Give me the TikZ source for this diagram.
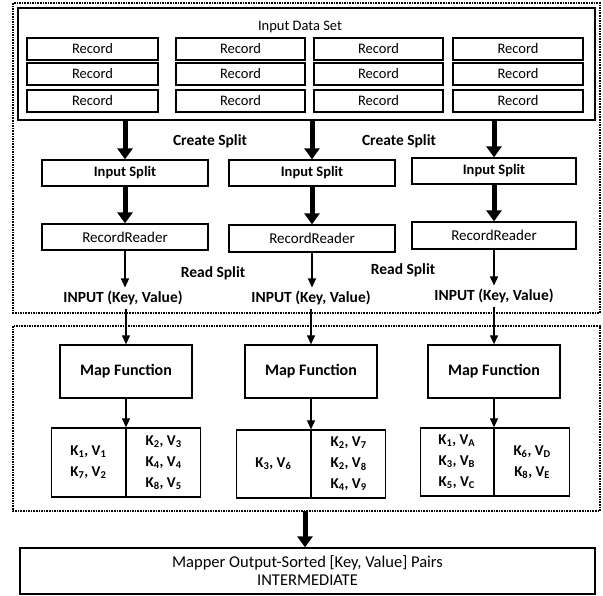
\documentclass[tikz,border=0pt]{standalone}
\usepackage{fontspec}
\setmainfont{Carlito}
\usetikzlibrary{arrows.meta}

\begin{document}
\begin{tikzpicture}[x=1pt,y=-1pt,
        txt/.style={font=\fontsize{14.5}{17}\selectfont},
        btxt/.style={font=\fontsize{15.5}{18}\selectfont\bfseries},
        box/.style={draw,line width=1.3pt,inner sep=0pt,align=center},
        kvbox/.style={box,font=\fontsize{15}{21}\selectfont\bfseries},
        frame/.style={densely dotted,line width=1.6pt},
        thickarr/.style={line width=5pt,-{Triangle[width=15pt,length=11pt]}},
        thinarr/.style={line width=1.2pt,-{Triangle[width=8pt,length=9pt]}}]
    \useasboundingbox (0,0) rectangle (603,596);

    % dotted frames
    \draw[frame] (13,3) rectangle (600,313);
    \draw[frame] (13,326) rectangle (600,511);

    % input data set with its records
    \node[box,line width=1.8pt,minimum width=577pt,minimum height=112pt] (data) at (306.5,64) {};
    \node[txt] (title) at (300,27) {Input Data Set};
    \foreach \cx/\w [count=\i] in {92.5/131, 240.5/129, 378.5/129, 518/130}
        \foreach \cy [count=\j] in {49,74,101}
            \node[box,txt,minimum width=\w pt,minimum height=22pt] (rec-\i-\j) at (\cx,\cy) {Record};

    % splits and readers
    \node[box,btxt,font=\fontsize{14.5}{17}\selectfont\bfseries,minimum width=166pt,minimum height=26pt] (split1) at (125,173) {Input Split};
    \node[box,btxt,font=\fontsize{14.5}{17}\selectfont\bfseries,minimum width=166pt,minimum height=26pt] (split2) at (312,173) {Input Split};
    \node[box,btxt,font=\fontsize{14.5}{17}\selectfont\bfseries,minimum width=164pt,minimum height=26pt] (split3) at (494,171) {Input Split};
    \node[box,font=\fontsize{15}{17}\selectfont,minimum width=166pt,minimum height=26pt] (rr1) at (125,237) {RecordReader};
    \node[box,font=\fontsize{15}{17}\selectfont,minimum width=166pt,minimum height=27pt] (rr2) at (312,238.5) {RecordReader};
    \node[box,font=\fontsize{15}{17}\selectfont,minimum width=164pt,minimum height=27pt] (rr3) at (494,235.5) {RecordReader};

    \node[btxt] (create1) at (210,141) {Create Split};
    \node[btxt] (create2) at (399,141) {Create Split};
    \node[btxt] (read1) at (213,273) {Read Split};
    \node[btxt] (read2) at (403,270) {Read Split};

    \node[btxt] (in1) at (123,298) {INPUT (Key, Value)};
    \node[btxt] (in2) at (311,298) {INPUT (Key, Value)};
    \node[btxt] (in3) at (494,296) {INPUT (Key, Value)};

    % map functions and their outputs
    \node[box,font=\fontsize{16}{18}\selectfont\bfseries,minimum width=132pt,minimum height=53pt] (map1) at (126,371.5) {Map Function};
    \node[box,font=\fontsize{16}{18}\selectfont\bfseries,minimum width=132pt,minimum height=53pt] (map2) at (311,371.5) {Map Function};
    \node[box,font=\fontsize{16}{18}\selectfont\bfseries,minimum width=132pt,minimum height=53pt] (map3) at (494,371.5) {Map Function};

    \node[kvbox,minimum width=74pt,minimum height=69pt,anchor=east] (kv1a) at (126,462.5)
        {K\textsubscript{1}, V\textsubscript{1}\\K\textsubscript{7}, V\textsubscript{2}};
    \node[kvbox,minimum width=74pt,minimum height=69pt,anchor=west] (kv1b) at (126,462.5)
        {K\textsubscript{2}, V\textsubscript{3}\\K\textsubscript{4}, V\textsubscript{4}\\K\textsubscript{8}, V\textsubscript{5}};
    \node[kvbox,minimum width=74pt,minimum height=68pt,anchor=east] (kv2a) at (311,464)
        {K\textsubscript{3}, V\textsubscript{6}};
    \node[kvbox,minimum width=74pt,minimum height=68pt,anchor=west] (kv2b) at (311,464)
        {K\textsubscript{2}, V\textsubscript{7}\\K\textsubscript{2}, V\textsubscript{8}\\K\textsubscript{4}, V\textsubscript{9}};
    \node[kvbox,minimum width=73pt,minimum height=68pt,anchor=east] (kv3a) at (494,462)
        {K\textsubscript{1}, V\textsubscript{A}\\K\textsubscript{3}, V\textsubscript{B}\\K\textsubscript{5}, V\textsubscript{C}};
    \node[kvbox,minimum width=75pt,minimum height=68pt,anchor=west] (kv3b) at (494,462)
        {K\textsubscript{6}, V\textsubscript{D}\\K\textsubscript{8}, V\textsubscript{E}};

    \node[box,font=\fontsize{16.5}{18}\selectfont,minimum width=575pt,minimum height=46pt] (inter) at (307.5,571)
        {Mapper Output-Sorted [Key, Value] Pairs\\INTERMEDIATE};
    \coordinate (fbot) at (305,511);

    % connectors
    \foreach \k in {1,2,3} {
        \draw[thickarr] (split\k.north |- data.south) -- (split\k.north);
        \draw[thickarr] (split\k) -- (rr\k);
        \draw[thinarr] (rr\k.south) -- (rr\k.south |- in\k.north);
        \draw[thinarr] (map\k.north |- in\k.south) -- (map\k.north);
        \draw[thinarr] (map\k.south) -- (kv\k a.north east);
    }
    \draw[thickarr] (fbot) -- (fbot |- inter.north);
\end{tikzpicture}
\end{document}
